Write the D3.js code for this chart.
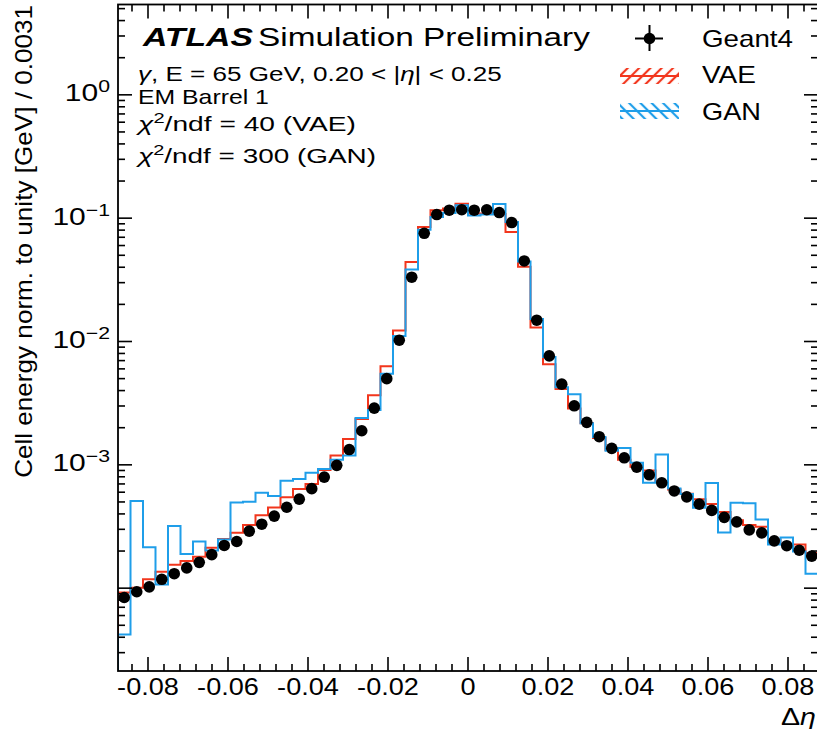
<!DOCTYPE html>
<html>
<head>
<meta charset="utf-8">
<script src="https://cdn.jsdelivr.net/npm/d3@7"></script>
<style>
  body { margin: 0; background: #fff; }
  svg text { font-family: "Liberation Sans", Arial, Helvetica, sans-serif; fill: #000; }
</style>
</head>
<body>
<svg id="chart" width="817" height="729"></svg>
<script>
// binning of the delta eta histogram
const etaMin = -0.0875;
const etaMax = 0.0875;
const nBins = 56;

// cell energy, normalised to unity, one value per bin
const geant4 = [8.4e-5, 9.35e-5, 1.025e-4, 1.18e-4, 1.31e-4, 1.46e-4, 1.62e-4, 1.87e-4, 2.22e-4, 2.39e-4,
  2.90e-4, 3.30e-4, 3.84e-4, 4.53e-4, 5.27e-4, 6.41e-4, 7.95e-4, 9.9e-4, 1.33e-3, 1.89e-3,
  2.88e-3, 5.0e-3, 1.025e-2, 3.32e-2, 7.54e-2, 0.107, 0.116, 0.117, 0.116, 0.117,
  0.111, 0.0921, 0.0450, 0.01488, 7.64e-3, 4.51e-3, 3.01e-3, 2.21e-3, 1.69e-3, 1.36e-3,
  1.14e-3, 9.58e-4, 8.30e-4, 7.15e-4, 6.14e-4, 5.50e-4, 4.80e-4, 4.27e-4, 3.75e-4, 3.45e-4,
  2.97e-4, 2.81e-4, 2.42e-4, 2.21e-4, 2.03e-4, 1.82e-4];

const vae = [9.21e-5, 1.01e-4, 1.18e-4, 1.36e-4, 1.55e-4, 1.66e-4, 1.80e-4, 2.13e-4, 2.50e-4, 2.82e-4,
  3.25e-4, 3.91e-4, 4.50e-4, 5.45e-4, 6.36e-4, 6.98e-4, 9.06e-4, 1.19e-3, 1.62e-3, 2.35e-3,
  3.67e-3, 6.31e-3, 1.23e-2, 4.42e-2, 8.49e-2, 0.116, 0.120, 0.131, 0.109, 0.109,
  0.108, 0.0773, 0.0404, 0.0130, 6.55e-3, 4.11e-3, 2.86e-3, 2.17e-3, 1.65e-3, 1.32e-3,
  1.10e-3, 9.63e-4, 9.01e-4, 7.38e-4, 6.30e-4, 5.82e-4, 5.27e-4, 4.82e-4, 4.14e-4, 3.56e-4,
  3.25e-4, 3.15e-4, 2.48e-4, 2.29e-4, 2.26e-4, 1.93e-4];

const gan = [4.22e-5, 5.08e-4, 2.15e-4, 1.07e-4, 3.19e-4, 1.89e-4, 2.39e-4, 2.02e-4, 2.48e-4, 4.94e-4,
  5.03e-4, 5.95e-4, 5.58e-4, 7.42e-4, 7.66e-4, 8.61e-4, 9.23e-4, 1.10e-3, 1.19e-3, 2.40e-3,
  2.78e-3, 5.48e-3, 1.11e-2, 3.84e-2, 8.05e-2, 0.102, 0.110, 0.127, 0.105, 0.107,
  0.130, 0.0932, 0.0445, 0.0152, 7.50e-3, 4.26e-3, 3.74e-3, 2.17e-3, 1.68e-3, 1.30e-3,
  1.37e-3, 1.04e-3, 7.15e-4, 1.21e-3, 6.44e-4, 5.79e-4, 4.48e-4, 7.11e-4, 2.83e-4, 4.92e-4,
  4.87e-4, 3.61e-4, 2.26e-4, 2.57e-4, 1.98e-4, 1.31e-4];

const xTicks = [-0.08, -0.06, -0.04, -0.02, 0, 0.02, 0.04, 0.06, 0.08];
const xTickLabels = ["-0.08", "-0.06", "-0.04", "-0.02", "0", "0.02", "0.04", "0.06", "0.08"];
const yLabelledExp = [0, -1, -2, -3];
const yLimits = [2.13e-5, 5.4];

const colVAE = "#f2361d";
const colGAN = "#1f9ee9";

// svg setup
const svg = d3.select("#chart");
const plot = { left: 118, right: 818, top: 4.5, bottom: 671 };

const x = d3.scaleLinear().domain([etaMin, etaMax]).range([plot.left, plot.right]);
const y = d3.scaleLog().domain(yLimits).range([plot.bottom, plot.top]);

const edges = d3.range(nBins + 1).map(i => etaMin + i * (etaMax - etaMin) / nBins);
const centers = d3.range(nBins).map(i => (edges[i] + edges[i + 1]) / 2);

// squeeze or stretch a text horizontally so it covers w pixels
function fitText(sel, px, py, w, extra) {
  const n = sel.node().getComputedTextLength();
  sel.attr("transform", `translate(${px},${py}) ${extra || ""} scale(${w / n},1)`);
}

const defs = svg.append("defs");
defs.append("clipPath").attr("id", "plotclip")
  .append("rect")
  .attr("x", plot.left).attr("y", plot.top)
  .attr("width", plot.right - plot.left).attr("height", plot.bottom - plot.top);

function hatch(id, color, backslash) {
  const p = defs.append("pattern").attr("id", id)
    .attr("patternUnits", "userSpaceOnUse").attr("width", 8).attr("height", 8)
    .attr("patternTransform", backslash ? "rotate(-45)" : "rotate(45)");
  p.append("line").attr("x1", 4).attr("y1", 0).attr("x2", 4).attr("y2", 8)
    .attr("stroke", color).attr("stroke-width", 2.2);
}
hatch("hatchVAE", colVAE, false);
hatch("hatchGAN", colGAN, true);

// histograms
const stepLine = d3.line().x(d => x(d[0])).y(d => y(d[1]));
function stepPoints(vals) {
  const pts = [[edges[0], yLimits[0]]];
  vals.forEach((v, i) => { pts.push([edges[i], v]); pts.push([edges[i + 1], v]); });
  pts.push([edges[nBins], yLimits[0]]);
  return pts;
}

const plotArea = svg.append("g").attr("clip-path", "url(#plotclip)");

plotArea.append("path")
  .attr("d", stepLine(stepPoints(vae)))
  .attr("fill", "none").attr("stroke", colVAE).attr("stroke-width", 2);

plotArea.append("path")
  .attr("d", stepLine(stepPoints(gan)))
  .attr("fill", "none").attr("stroke", colGAN).attr("stroke-width", 2);

plotArea.selectAll("circle.g4")
  .data(geant4)
  .join("circle")
  .attr("class", "g4")
  .attr("cx", (d, i) => x(centers[i]))
  .attr("cy", d => y(d))
  .attr("r", 5.8)
  .attr("fill", "#000");

// frame and ticks
const axes = svg.append("g").attr("stroke", "#000").attr("fill", "none");
axes.append("rect")
  .attr("x", plot.left).attr("y", plot.top)
  .attr("width", plot.right - plot.left).attr("height", plot.bottom - plot.top)
  .attr("stroke-width", 1.8);

const xMinor = d3.range(-21, 22).map(k => k * 0.004);
xMinor.forEach(v => {
  const major = xTicks.some(t => Math.abs(t - v) < 1e-9);
  const len = major ? 14 : 7;
  axes.append("line").attr("x1", x(v)).attr("x2", x(v))
    .attr("y1", plot.bottom).attr("y2", plot.bottom - len).attr("stroke-width", 1.6);
  axes.append("line").attr("x1", x(v)).attr("x2", x(v))
    .attr("y1", plot.top).attr("y2", plot.top + len).attr("stroke-width", 1.6);
});

const yTickVals = [];
for (let e = -5; e <= 0; e++) {
  for (let m = 1; m <= 9; m++) {
    const v = m * Math.pow(10, e);
    if (v >= yLimits[0] && v <= yLimits[1]) yTickVals.push([v, m === 1]);
  }
}
yTickVals.forEach(([v, major]) => {
  const len = major ? 14 : 7;
  axes.append("line").attr("x1", plot.left).attr("x2", plot.left + len)
    .attr("y1", y(v)).attr("y2", y(v)).attr("stroke-width", 1.6);
  axes.append("line").attr("x1", plot.right).attr("x2", plot.right - len)
    .attr("y1", y(v)).attr("y2", y(v)).attr("stroke-width", 1.6);
});

// tick labels
const labels = svg.append("g");
xTicks.forEach((t, i) => {
  const txt = labels.append("text")
    .attr("text-anchor", "middle")
    .style("font-size", "24px")
    .text(xTickLabels[i]);
  txt.attr("transform", `translate(${x(t)},695) scale(1.13,1)`);
});

yLabelledExp.forEach(k => {
  const txt = labels.append("text")
    .attr("text-anchor", "end")
    .style("font-size", "24px");
  txt.append("tspan").text("10");
  txt.append("tspan").attr("dy", -9).style("font-size", "17px")
    .text(k === 0 ? "0" : "\u2212" + (-k));
  txt.attr("transform", `translate(110,${y(Math.pow(10, k)) + 6.5}) scale(1.25,1)`);
});

// axis titles
const yTitle = labels.append("text")
  .attr("text-anchor", "end")
  .style("font-size", "23px")
  .text("Cell energy norm. to unity [GeV] / 0.0031");
fitText(yTitle, 32, 5, 473, "rotate(-90)");

const xTitle = labels.append("text")
  .attr("text-anchor", "end")
  .style("font-size", "24px");
xTitle.append("tspan").text("\u0394");
xTitle.append("tspan").style("font-style", "italic").text("\u03b7");
fitText(xTitle, 816, 725, 35);

// ATLAS label and info block
const atlas = labels.append("text")
  .style("font-size", "26px").style("font-weight", "bold").style("font-style", "italic")
  .text("ATLAS");
fitText(atlas, 143, 46, 110);
const sim = labels.append("text").style("font-size", "26px").text("Simulation Preliminary");
fitText(sim, 258, 46, 332);

const info1 = labels.append("text").style("font-size", "20px");
info1.append("tspan").style("font-style", "italic").text("\u03b3");
info1.append("tspan").text(", E = 65 GeV, 0.20 < |");
info1.append("tspan").style("font-style", "italic").text("\u03b7");
info1.append("tspan").text("| < 0.25");
fitText(info1, 138, 81, 364);

const info2 = labels.append("text").style("font-size", "20px").text("EM Barrel 1");
fitText(info2, 138, 104, 131);

function chiLine(py, rest, w) {
  const t = labels.append("text").style("font-size", "21px");
  t.append("tspan").style("font-style", "italic").text("\u03c7");
  t.append("tspan").attr("dy", -8).style("font-size", "15px").text("2");
  t.append("tspan").attr("dy", 8).text(rest);
  fitText(t, 138, py, w);
}
chiLine(131, "/ndf = 40 (VAE)", 218);
chiLine(163, "/ndf = 300 (GAN)", 238);

// legend
const legend = svg.append("g");
legend.append("line").attr("x1", 635).attr("x2", 663).attr("y1", 38.5).attr("y2", 38.5)
  .attr("stroke", "#000").attr("stroke-width", 2);
legend.append("line").attr("x1", 649.5).attr("x2", 649.5).attr("y1", 25).attr("y2", 51)
  .attr("stroke", "#000").attr("stroke-width", 2);
legend.append("circle").attr("cx", 649.5).attr("cy", 38.5).attr("r", 5.8).attr("fill", "#000");

[["hatchVAE", colVAE, 68], ["hatchGAN", colGAN, 103]].forEach(([pat, col, top]) => {
  legend.append("rect").attr("x", 620).attr("y", top).attr("width", 59).attr("height", 16)
    .attr("fill", `url(#${pat})`);
  legend.append("line").attr("x1", 620).attr("x2", 679).attr("y1", top + 8).attr("y2", top + 8)
    .attr("stroke", col).attr("stroke-width", 2);
});

const legTexts = [["Geant4", 46.7, 91], ["VAE", 83.3, 54], ["GAN", 120, 59]];
legTexts.forEach(([s, py, w]) => {
  const t = legend.append("text").style("font-size", "24px").text(s);
  fitText(t, 702, py, w);
});
</script>
</body>
</html>
